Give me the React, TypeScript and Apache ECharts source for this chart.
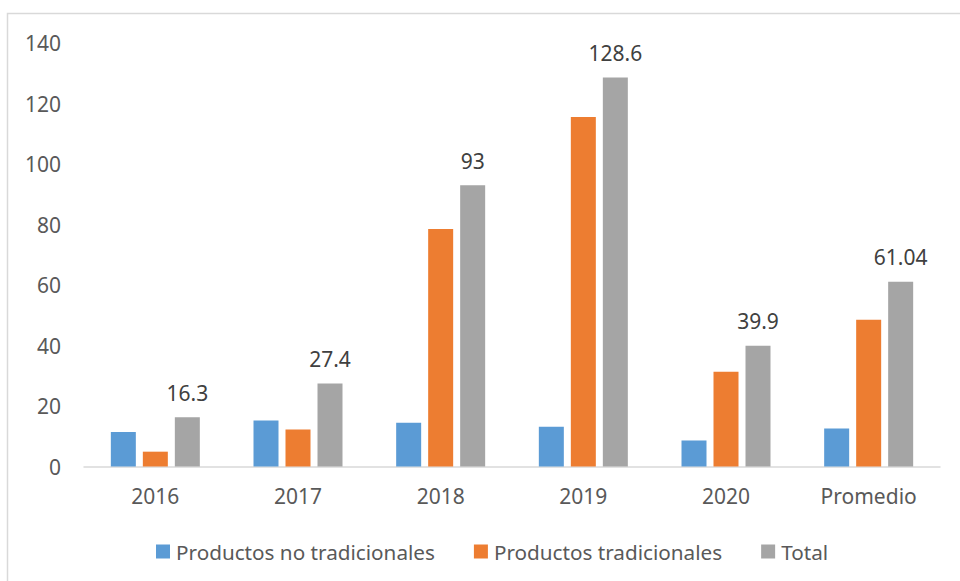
import React, { useEffect, useRef } from "react";
import * as echarts from "echarts";

const categories = ["2016", "2017", "2018", "2019", "2020", "Promedio"];
const noTradicionales = [11.4, 15.2, 14.5, 13.1, 8.6, 12.56];
const tradicionales = [4.9, 12.2, 78.5, 115.5, 31.3, 48.48];
const total = [16.3, 27.4, 93, 128.6, 39.9, 61.04];
const seriesNames = ["Productos no tradicionales", "Productos tradicionales", "Total"];
const yTicks = { min: 0, max: 140, interval: 20 };

const FONT = "Noto Sans";
const TXT = "#595959";
const FS = 21;

export default function App() {
  const ref = useRef<HTMLDivElement>(null);
  useEffect(() => {
    if (!ref.current) return;
    const chart = echarts.init(ref.current, null, { renderer: "svg" });
    chart.setOption({
      animation: false,
      backgroundColor: "#ffffff",
      textStyle: { fontFamily: FONT, color: TXT },
      graphic: [
        {
          type: "rect",
          shape: { x: 7.5, y: 13.5, width: 1000, height: 1000 },
          style: { fill: "none", stroke: "#D9D9D9", lineWidth: 1.5 },
          silent: true,
          z: 0,
        },
      ],
      grid: { left: 84, right: 20, top: 43, bottom: 114.5, containLabel: false },
      legend: {
        left: 151,
        top: 536,
        itemWidth: 14,
        itemHeight: 14,
        itemGap: 39,
        icon: "rect",
        textStyle: { fontFamily: FONT, fontSize: 20.7, color: TXT, padding: [0, 0, 0, 1] },
        data: seriesNames,
      },
      xAxis: {
        type: "category",
        data: categories,
        axisLine: { lineStyle: { color: "#D9D9D9", width: 1.5 } },
        axisTick: { show: false },
        axisLabel: { fontFamily: FONT, fontSize: FS, color: TXT, margin: 19 },
        splitLine: { show: false },
      },
      yAxis: {
        type: "value",
        min: yTicks.min,
        max: yTicks.max,
        interval: yTicks.interval,
        axisLine: { show: false },
        axisTick: { show: false },
        splitLine: { show: false },
        axisLabel: { fontFamily: FONT, fontSize: FS, color: TXT, margin: 23 },
      },
      series: [
        {
          name: seriesNames[0],
          type: "bar",
          data: noTradicionales,
          barWidth: 25,
          barGap: "28%",
          itemStyle: { color: "#5B9BD5" },
        },
        {
          name: seriesNames[1],
          type: "bar",
          data: tradicionales,
          barWidth: 25,
          barGap: "28%",
          itemStyle: { color: "#ED7D31" },
        },
        {
          name: seriesNames[2],
          type: "bar",
          data: total,
          barWidth: 25,
          barGap: "28%",
          itemStyle: { color: "#A5A5A5" },
          label: {
            show: true,
            position: "top",
            distance: 14,
            fontFamily: FONT,
            fontSize: FS,
            color: "#404040",
          },
        },
      ],
    });
    return () => chart.dispose();
  }, []);
  return (
    <div
      ref={ref}
      style={{ position: "fixed", left: 0, top: 0, width: 960, height: 581 }}
    />
  );
}
